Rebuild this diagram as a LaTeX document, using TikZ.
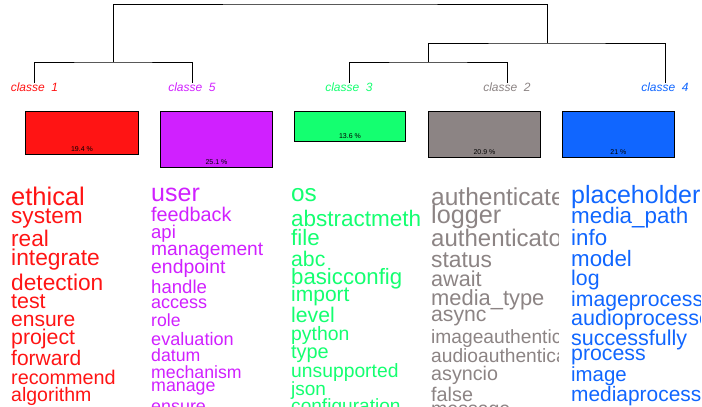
\documentclass[tikz,border=0pt]{standalone}
\usepackage{fontspec}
\setmainfont{Liberation Sans}
\usetikzlibrary{positioning}
\definecolor{cred}{RGB}{255,20,20}
\definecolor{cmag}{RGB}{208,32,255}
\definecolor{cgrn}{RGB}{20,255,112}
\definecolor{cgry}{RGB}{140,132,132}
\definecolor{cblu}{RGB}{16,102,255}

\begin{document}
\begin{tikzpicture}[
    x=1pt,y=-1pt,
    lab/.style={anchor=base,inner sep=0pt,font=\fontsize{12}{12}\selectfont\itshape},
    bar/.style={draw,line width=0.9pt,anchor=north west,inner sep=0pt,minimum width=112pt},
    pct/.style={anchor=base,inner sep=0pt,font=\fontsize{7}{7}\selectfont},
    wd/.style={anchor=base west,inner sep=0pt,text=#1},
    tree/.style={line width=0.9pt}
]
\useasboundingbox (0,0) rectangle (702,407);
\clip (0,0) rectangle (702,407);

\node[lab,text=cred] (cl1) at (34.5,91.5) {classe~~1};
\node[lab,text=cmag] (cl5) at (192,91.5) {classe~~5};
\node[lab,text=cgrn] (cl3) at (349,91.5) {classe~~3};
\node[lab,text=cgry] (cl2) at (507,91.5) {classe~~2};
\node[lab,text=cblu] (cl4) at (665,91.5) {classe~~4};

\coordinate (j15) at (113,62);
\coordinate (j32) at (428,62);
\coordinate (j324) at (547,43);
\coordinate (top) at (330,4);
\draw[tree] (cl1.north) |- (j15) -| (cl5.north);
\draw[tree] (cl3.north) |- (j32) -| (cl2.north);
\draw[tree] (j32) |- (j324) -| (cl4.north);
\draw[tree] (j15) |- (top) -| (j324);

\node[bar,fill=cred,minimum width=113pt,minimum height=43pt] (bx1) at (25,111) {};
\node[bar,fill=cmag,minimum height=56pt] (bx5) at (160,111) {};
\node[bar,fill=cgrn,minimum width=111pt,minimum height=30pt] (bx3) at (294,111) {};
\node[bar,fill=cgry,minimum height=46pt] (bx2) at (428,111) {};
\node[bar,fill=cblu,minimum height=46pt] (bx4) at (562,111) {};

\node[pct] (pc1) at ([yshift=3pt]bx1.south) {19.4 \%};
\node[pct] (pc5) at ([yshift=3pt]bx5.south) {25.1 \%};
\node[pct] (pc3) at ([yshift=3pt]bx3.south) {13.6 \%};
\node[pct] (pc2) at ([yshift=3.5pt]bx2.south) {20.9 \%};
\node[pct] (pc4) at ([yshift=3.5pt]bx4.south) {21 \%};

\begin{scope}
\clip (0,180) rectangle (150,407);
\foreach \w/\s/\y [count=\i] in {ethical/25.5/205.3, system/22.6/223.3, real/22.6/246,
    integrate/22.8/265, detection/22.7/290, test/21.4/308.3, ensure/21/326.7,
    project/21.3/344.3, forward/21/365.7, recommend/19.8/384, algorithm/19.5/401.7}
  \node[wd=cred,font=\fontsize{\s}{\s}\selectfont] (a\i) at (11,\y) {\w};
\end{scope}

\begin{scope}
\clip (150,180) rectangle (290,407);
\foreach \w/\s/\y [count=\i] in {user/25/201.7, feedback/19.8/221, api/18.5/238.3,
    management/19.2/255.7, endpoint/19.4/273.3, handle/18.6/293.3, access/18/308.3,
    role/17.6/326.7, evaluation/18.1/345, datum/17.7/361.7, mechanism/17.7/378.3,
    manage/17.8/391.7, ensure/17.9/412}
  \node[wd=cmag,font=\fontsize{\s}{\s}\selectfont] (b\i) at (151,\y) {\w};
\end{scope}

\begin{scope}
\clip (290,180) rectangle (420,407);
\foreach \w/\s/\y [count=\i] in {os/24.3/201.7, abstractmethod/22.5/226.7, file/22.3/245,
    abc/21.2/266.7, basicconfig/22.2/284, import/21/301.7, level/21.2/322.7,
    python/19.4/340, type/19.9/358.3, unsupported/19.3/377.3, json/19/395,
    configuration/19.1/412}
  \node[wd=cgrn,font=\fontsize{\s}{\s}\selectfont] (c\i) at (291,\y) {\w};
\end{scope}

\begin{scope}
\clip (430,180) rectangle (558,407);
\foreach \w/\s/\y [count=\i] in {authenticate/24.5/205, logger/25.2/223.3,
    authenticator/24/246.7, status/22.8/267.7, await/21.6/286.7,
    media\_type/21.9/305, async/21.2/321.7, imageauthenticator/19.2/343.3,
    audioauthenticator/19.2/362.7, asyncio/19.7/380, false/19.8/401, message/19.5/415}
  \node[wd=cgry,font=\fontsize{\s}{\s}\selectfont] (d\i) at (431,\y) {\w};
\end{scope}

\begin{scope}
\clip (570,180) rectangle (700,407);
\foreach \w/\s/\y [count=\i] in {placeholder/25/203.3, media\_path/22.4/223.3,
    info/22.3/245, model/22.3/266.7, log/21.3/285, imageprocessor/21.2/306.7,
    audioprocessor/21.5/325, successfully/21.5/345, process/21.3/360,
    image/20.4/381.7, mediaprocessor/20.9/401}
  \node[wd=cblu,font=\fontsize{\s}{\s}\selectfont] (e\i) at (571,\y) {\w};
\end{scope}
\end{tikzpicture}
\end{document}
